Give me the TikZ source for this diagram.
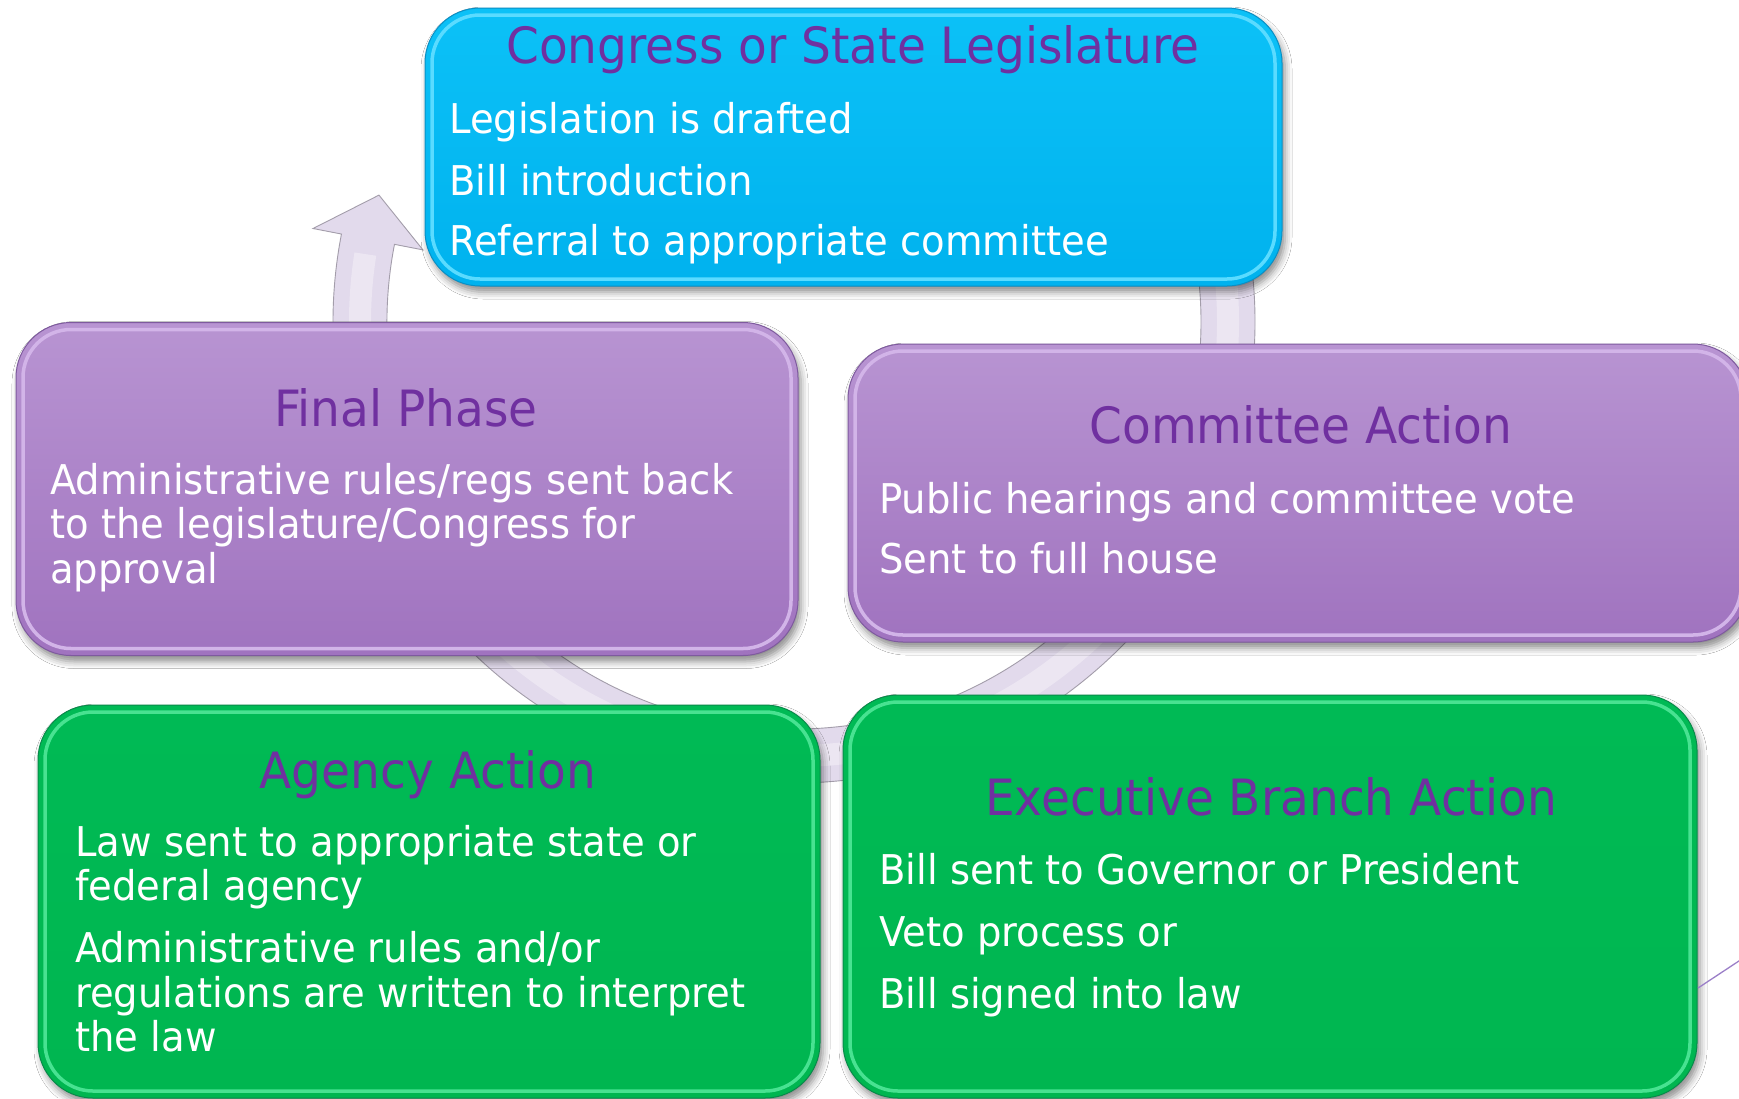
\documentclass[tikz,border=0pt]{standalone}
\usepackage{fontspec}
\setmainfont{DejaVu Sans}[FakeStretch=0.94]
\usetikzlibrary{calc,shadows.blur}
\definecolor{ttl}{HTML}{7030A0}
\definecolor{bandfill}{HTML}{E2DAEC}
\definecolor{bandline}{HTML}{A39DAA}
\definecolor{bluetop}{HTML}{0CC1F7}
\definecolor{bluebot}{HTML}{00B2EE}
\definecolor{blueedge}{HTML}{0A8FC4}
\definecolor{bluehl}{HTML}{5ADBFF}
\definecolor{purtop}{HTML}{B894D2}
\definecolor{purbot}{HTML}{A073BF}
\definecolor{puredge}{HTML}{7E5A9E}
\definecolor{purhl}{HTML}{D2B4E8}
\definecolor{grntop}{HTML}{00BA55}
\definecolor{grnbot}{HTML}{00B650}
\definecolor{grnedge}{HTML}{088A4A}
\definecolor{grnhl}{HTML}{48E291}
\definecolor{thinline}{HTML}{9B7FC8}
\begin{document}
\begin{tikzpicture}[x=1pt,y=-1pt,
  box/.style={rounded corners=55pt, inner sep=0pt, outer sep=0pt, line width=1pt,
    blur shadow={shadow xshift=3pt, shadow yshift=-6pt, shadow blur radius=7pt, shadow opacity=45}},
  bluebox/.style={box, draw=blueedge, top color=bluetop, bottom color=bluebot},
  purbox/.style={box, draw=puredge, top color=purtop, bottom color=purbot},
  grnbox/.style={box, draw=grnedge, top color=grntop, bottom color=grnbot},
  hl/.style={draw=#1, line width=3.5pt, rounded corners=48pt},
  ttlstyle/.style={text=ttl, font=\fontsize{50}{55}\selectfont, anchor=base, inner sep=0pt},
  bodystyle/.style={text=white, font=\fontsize{41}{44}\selectfont, anchor=base west, inner sep=0pt},
  band/.style={fill=bandfill, draw=bandline, line width=0.9pt}
]
\useasboundingbox (0,0) rectangle (1739,1098);
\clip (0,0) rectangle (1739,1098);
\fill[white] (0,0) rectangle (1739,1098);

% circular arrow
\coordinate (cc) at (794,322);
\path[band] (cc) ++(-40:461) arc[start angle=-40, end angle=191, radius=461]
  -- ($(cc)+(191:490)$) -- ($(cc)+(197:434)$) -- ($(cc)+(191:378)$)
  -- ($(cc)+(191:407)$) arc[start angle=191, end angle=-40, radius=407] -- cycle;
\draw[white, opacity=0.35, line width=22pt] (cc) ++(-40:434) arc[start angle=-40, end angle=189, radius=434];

% boxes
\node[bluebox, minimum width=857pt, minimum height=278pt] (leg) at (853.5,147) {};
\draw[hl=bluehl] ($(leg.south west)+(7,-7)$) rectangle ($(leg.north east)+(-7,7)$);

\node[purbox, minimum width=782pt, minimum height=333pt] (fin) at (407,489) {};
\draw[hl=purhl] ($(fin.south west)+(7,-7)$) rectangle ($(fin.north east)+(-7,7)$);

\node[purbox, minimum width=900pt, minimum height=298pt] (com) at (1298,493) {};
\draw[hl=purhl] ($(com.south west)+(7,-7)$) rectangle ($(com.north east)+(-7,7)$);

\node[grnbox, minimum width=782pt, minimum height=393pt] (agn) at (429,901.5) {};
\draw[hl=grnhl] ($(agn.south west)+(7,-7)$) rectangle ($(agn.north east)+(-7,7)$);

\node[grnbox, minimum width=854pt, minimum height=403pt] (exe) at (1270,896.5) {};
\draw[hl=grnhl] ($(exe.south west)+(7,-7)$) rectangle ($(exe.north east)+(-7,7)$);

% thin line at lower right
\coordinate (lnA) at (1698,988);
\coordinate (lnB) at (1748,955);
\draw[thinline, line width=1.3pt] (lnA) -- (lnB);

% texts: legislature
\node[ttlstyle] (legT) at (853,63) {Congress or State Legislature};
\node[bodystyle] (leg1) at (449,133) {Legislation is drafted};
\node[bodystyle] (leg2) at (449,195) {Bill introduction};
\node[bodystyle] (leg3) at (449,255) {Referral to appropriate committee};

% final phase
\node[ttlstyle] (finT) at (406,426) {Final Phase};
\node[bodystyle] (fin1) at (50,494) {Administrative rules/regs sent back};
\node[bodystyle] (fin2) at (50,538) {to the legislature/Congress for};
\node[bodystyle] (fin3) at (50,583) {approval};

% committee
\node[ttlstyle] (comT) at (1301,443) {Committee Action};
\node[bodystyle] (com1) at (879,513) {Public hearings and committee vote};
\node[bodystyle] (com2) at (879,573) {Sent to full house};

% agency
\node[ttlstyle] (agnT) at (428,788) {Agency Action};
\node[bodystyle] (agn1) at (75,856) {Law sent to appropriate state or};
\node[bodystyle] (agn2) at (75,900) {federal agency};
\node[bodystyle] (agn3) at (75,962) {Administrative rules and/or};
\node[bodystyle] (agn4) at (75,1007) {regulations are written to interpret};
\node[bodystyle] (agn5) at (75,1051) {the law};

% executive
\node[ttlstyle] (exeT) at (1271,815) {Executive Branch Action};
\node[bodystyle] (exe1) at (879,884) {Bill sent to Governor or President};
\node[bodystyle] (exe2) at (879,946) {Veto process or};
\node[bodystyle] (exe3) at (879,1008) {Bill signed into law};
\end{tikzpicture}
\end{document}
